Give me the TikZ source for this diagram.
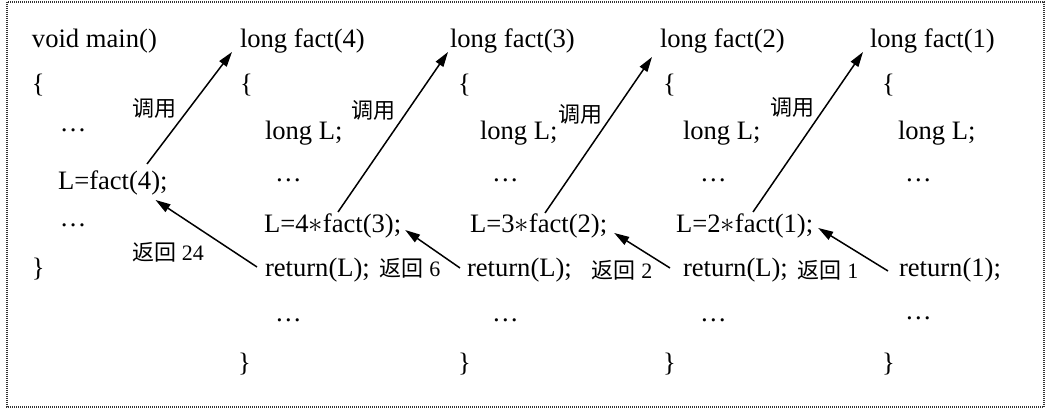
\documentclass[tikz,border=0pt]{standalone}
\usepackage{fontspec}
\setmainfont{Liberation Serif}
\newfontfamily\cjk{Noto Sans CJK SC}
\usetikzlibrary{arrows.meta, calc}

\begin{document}
\begin{tikzpicture}[
  x=0.5pt, y=-0.5pt,
  every node/.style={inner sep=0pt, outer sep=0pt},
  code/.style={anchor=base west, font=\fontsize{13.3}{16}\selectfont},
  note/.style={anchor=center, font=\fontsize{11}{13}\selectfont},
  flow/.style={line width=0.75pt, -{Triangle[length=7.5pt, width=4.5pt]}},
  frame/.style={line width=0.6pt, black!80, dash pattern=on 0.5pt off 0.5pt},
]

% Frame
\useasboundingbox (0,0) rectangle (1046,416);
\draw[frame] (7,2) rectangle (1044,407);

% main()
\node[code] (main)  at (32,48)  {void main()};
\node[code] (ob0)   at (32,93)  {\{};
\node[code] (d0a)   at (60,132) {\ldots};
\node[code] (call0) at (58,190) {L=fact(4);};
\node[code] (d0b)   at (60,227) {\ldots};
\node[code] (cb0)   at (32,277) {\}};

% fact(4)
\node[code] (f4)    at (240,48)  {long fact(4)};
\node[code] (ob1)   at (240,93)  {\{};
\node[code] (dl1)   at (265,140) {long L;};
\node[code] (d1a)   at (275,182) {\ldots};
\node[code] (call1) at (264,233) {L=4$\ast$fact(3);};
\node[code] (ret1)  at (265,277) {return(L);};
\node[code] (d1b)   at (275,322) {\ldots};
\node[code] (cb1)   at (238,372) {\}};

% fact(3)
\node[code] (f3)    at (450,48)  {long fact(3)};
\node[code] (ob2)   at (458,93)  {\{};
\node[code] (dl2)   at (480,140) {long L;};
\node[code] (d2a)   at (492,182) {\ldots};
\node[code] (call2) at (470,233) {L=3$\ast$fact(2);};
\node[code] (ret2)  at (467,277) {return(L);};
\node[code] (d2b)   at (492,322) {\ldots};
\node[code] (cb2)   at (458,372) {\}};

% fact(2)
\node[code] (f2)    at (660,48)  {long fact(2)};
\node[code] (ob3)   at (663,93)  {\{};
\node[code] (dl3)   at (683,140) {long L;};
\node[code] (d3a)   at (700,182) {\ldots};
\node[code] (call3) at (676,233) {L=2$\ast$fact(1);};
\node[code] (ret3)  at (683,277) {return(L);};
\node[code] (d3b)   at (700,322) {\ldots};
\node[code] (cb3)   at (663,372) {\}};

% fact(1)
\node[code] (f1)    at (870,48)  {long fact(1)};
\node[code] (ob4)   at (882,93)  {\{};
\node[code] (dl4)   at (898,140) {long L;};
\node[code] (d4a)   at (905,182) {\ldots};
\node[code] (ret4)  at (899,277) {return(1);};
\node[code] (d4b)   at (905,320) {\ldots};
\node[code] (cb4)   at (882,372) {\}};

% Labels
\node[note] (u1) at (155,108) {\cjk 调用};
\node[note] (u2) at (373,110) {\cjk 调用};
\node[note] (u3) at (580,114) {\cjk 调用};
\node[note] (u4) at (792,107) {\cjk 调用};
\node[note] (r1) at (168,252) {{\cjk 返回} 24};
\node[note] (r2) at (410,268) {{\cjk 返回} 6};
\node[note] (r3) at (622,270) {{\cjk 返回} 2};
\node[note] (r4) at (828,270) {{\cjk 返回} 1};

% Calls
\foreach \s/\t/\sx/\sy/\tx/\ty in {call0/f4/89/-26/-8/4, call1/f3/74/-21/-2/4,
                                   call2/f2/75/-20/-8/9, call3/f1/77/-21/-7/4} {
  \draw[flow] ($(\s.base west)+(\sx,\sy)$) -- ($(\t.base west)+(\tx,\ty)$);
}

% Returns
\foreach \s/\t/\sx/\sy/\tx/\ty in {ret1/call0/-8/-10/-12/10, ret2/call1/-7/-9/4/-3,
                                   ret3/call2/-13/-9/7/0, ret4/call3/-11/-6/5/-5} {
  \draw[flow] ($(\s.base west)+(\sx,\sy)$) -- ($(\t.base east)+(\tx,\ty)$);
}

\end{tikzpicture}
\end{document}
